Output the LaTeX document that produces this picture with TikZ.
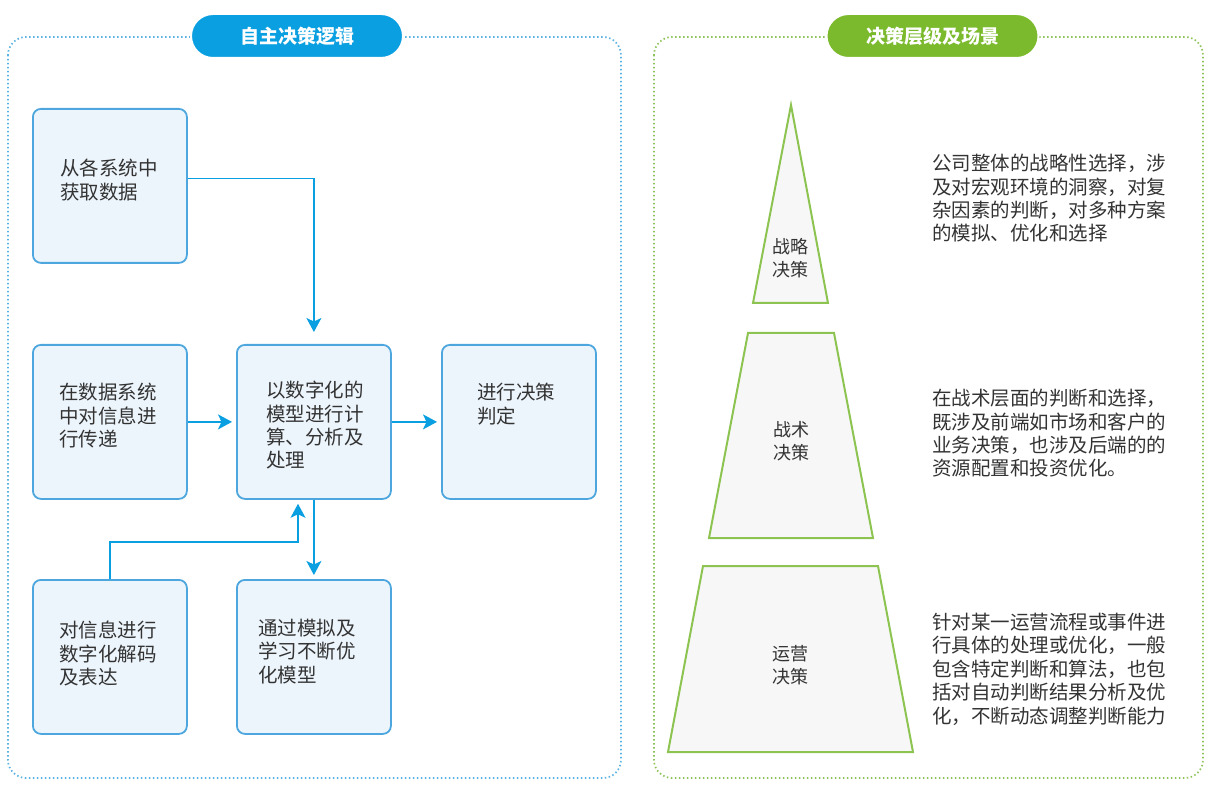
\documentclass[tikz,border=0pt]{standalone}
\usepackage{fontspec}
\setmainfont{Noto Sans CJK SC}
\usetikzlibrary{arrows.meta,calc}
\definecolor{skyblue}{HTML}{0A9FE0}
\definecolor{boxline}{HTML}{4DA7DE}
\definecolor{boxfill}{HTML}{EDF5FC}
\definecolor{dotblue}{HTML}{5AB3E3}
\definecolor{leafgreen}{HTML}{7BBA2C}
\definecolor{tierline}{HTML}{8DC451}
\definecolor{tierfill}{HTML}{F7F7F7}
\definecolor{dotgreen}{HTML}{8EC35A}
\definecolor{inkgray}{HTML}{333333}

\begin{document}
\begin{tikzpicture}[x=1pt,y=-1pt,
		every node/.style={inner sep=0pt, text=inkgray},
		zone/.style={rounded corners=18pt, line width=1.7pt, dash pattern=on 1.5pt off 2.5pt},
		pill/.style={rounded corners=22pt, minimum width=212pt, minimum height=44pt, draw=white, line width=2pt, text=white, font=\bfseries\fontsize{19}{23}\selectfont},
		card/.style={draw=boxline, fill=boxfill, line width=1.8pt, rounded corners=8pt, minimum width=154pt, minimum height=154pt, anchor=north west},
		cardtext/.style={anchor=north west, align=left, font=\fontsize{19.5}{23.4}\selectfont},
		flow/.style={draw=skyblue, line width=1.4pt, -{Stealth[length=14pt,width=15pt,inset=3.5pt]}, shorten >=4pt},
		tier/.style={draw=tierline, fill=tierfill, line width=2pt},
		tierlabel/.style={align=center, font=\fontsize{18}{23}\selectfont},
		note/.style={anchor=north west, align=left, font=\fontsize{19.5}{23.4}\selectfont}]
		\useasboundingbox (0,0) rectangle (1213,791);
		\def\myCards{fetch/32/108/28/60/从各系统中\\获取数据, transfer/32/344/27/48/在数据系统\\中对信息进\\行传递, compute/236/344/30/46/以数字化的\\模型进行计\\算、分析及\\处理, decide/441/344/36/48/进行决策\\判定, decode/32/579/27/51/对信息进行\\数字化解码\\及表达, optimize/236/579/22/49/通过模拟及\\学习不断优\\化模型}
		% the two panels
		\draw[zone, draw=dotblue] (8,37) rectangle (621,778);
		\draw[zone, draw=dotgreen] (654,37) rectangle (1203,778);
		\node[pill, fill=skyblue] (logic) at (297,36) {自主决策逻辑};
		\node[pill, fill=leafgreen] (levels) at (932.5,36) {决策层级及场景};
		% left: the decision flow
		\foreach \name/\x/\y/\dx/\dy/\txt in \myCards {
			\node[card] (\name) at (\x,\y) {};
			\node[cardtext] (\name-text) at ($(\name.north west)+(\dx,\dy-9)$) {\txt};
		}
		\coordinate (bend) at (298,542);
		\draw[flow, shorten >=12pt] ($(fetch.east)+(0,-7.5)$) -| (compute.north);
		\draw[flow] (transfer) -- (compute);
		\draw[flow] (compute) -- (decide);
		\draw[flow] (compute.south) -- (optimize.north);
		\draw[flow] (decode.north) |- (bend) -- (bend |- compute.south);
		% right: the three levels
		\draw[tier] (791,105) -- (828,303) -- (753,303) -- cycle;
		\draw[tier] (748,333) -- (834,333) -- (873,538) -- (709,538) -- cycle;
		\draw[tier] (703,566) -- (878,566) -- (913,752) -- (668,752) -- cycle;
		\node[tierlabel] (strategic) at (790.5,258) {战略\\决策};
		\node[tierlabel] (tactical) at (791,441) {战术\\决策};
		\node[tierlabel] (operational) at (790.5,665) {运营\\决策};
		\node[note] (strategic-note) at (932,154) {公司整体的战略性选择，涉\\及对宏观环境的洞察，对复\\杂因素的判断，对多种方案\\的模拟、优化和选择};
		\node[note] (tactical-note) at (932,389) {在战术层面的判断和选择，\\既涉及前端如市场和客户的\\业务决策，也涉及后端的的\\资源配置和投资优化。};
		\node[note] (operational-note) at (932,613) {针对某一运营流程或事件进\\行具体的处理或优化，一般\\包含特定判断和算法，也包\\括对自动判断结果分析及优\\化，不断动态调整判断能力};
	\end{tikzpicture}
\end{document}
